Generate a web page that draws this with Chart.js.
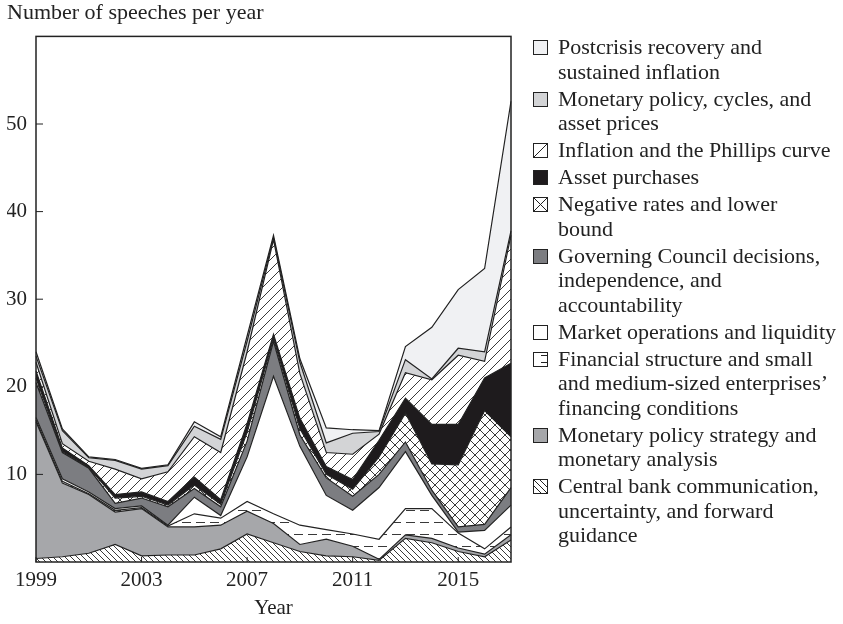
<!DOCTYPE html>
<html>
<head>
<meta charset="utf-8">
<script src="https://cdn.jsdelivr.net/npm/chart.js@4"></script>
<style>
  body { margin: 0; background: #fff; }
  #wrap { position: relative; width: 843px; height: 624px; }
  #legend { position: absolute; left: 533px; top: 35px; font: 22px/24.5px "Liberation Serif", serif; color: #222; }
  .item { display: flex; align-items: flex-start; margin-bottom: 2.5px; }
  .item canvas { width: 15px; height: 15px; margin-top: 5px; margin-right: 10px; flex: none; }
</style>
</head>
<body>
<div id="wrap">
  <canvas id="chart" width="843" height="624"></canvas>
  <div id="legend"></div>
</div>
<script>
const years = ["1999", "2000", "2001", "2002", "2003", "2004", "2005", "2006", "2007", "2008",
  "2009", "2010", "2011", "2012", "2013", "2014", "2015", "2016", "2017"];
const xTickYears = ["1999", "2003", "2007", "2011", "2015"];
const yTickValues = [10, 20, 30, 40, 50];

// series, bottom of the stack first
const commGuidance = [0.4, 0.6, 1.0, 2.0, 0.7, 0.8, 0.8, 1.5, 3.2, 2.2, 1.2, 0.7, 0.6, 0.2, 2.7, 2.2, 1.2, 0.6, 2.5];
const strategyAnalysis = [15.6, 8.4, 6.7, 3.7, 5.4, 3.2, 3.2, 2.7, 2.6, 2.2, 0.8, 1.9, 1.2, 0.1, 0.4, 0.5, 0.4, 0.3, 0.6];
const financialStructure = [0.2, 0.2, 0.1, 0.2, 0.1, 0.1, 1.5, 0.8, 1.1, 1.1, 2.2, 1.1, 1.4, 2.3, 3.0, 3.4, 1.7, 0.6, 0.9];
const marketOperations = [0.3, 0.3, 0.2, 0.2, 0.2, 0.1, 1.9, 0.3, 5.1, 15.7, 9.0, 3.9, 2.7, 5.9, 6.5, 1.5, 0.1, 2.1, 2.5];
const governingCouncil = [4.0, 3.0, 2.7, 0.6, 0.9, 2.1, 1.0, 1.0, 1.8, 4.0, 1.3, 2.0, 1.6, 1.5, 1.1, 0.6, 0.6, 0.7, 2.0];
const negativeRates = [0.5, 0.1, 0.1, 0.6, 0.2, 0.2, 0.4, 0.3, 1.0, 0.3, 0.7, 0.4, 0.8, 2.0, 3.3, 3.0, 7.1, 13.0, 5.8];
const assetPurchases = [0.8, 0.4, 0.2, 0.4, 0.5, 0.4, 0.9, 0.5, 1.0, 0.5, 1.2, 0.9, 1.1, 1.9, 1.7, 4.5, 4.6, 3.7, 8.4];
const inflationPhillips = [1.0, 0.5, 0.5, 2.9, 1.5, 3.4, 4.6, 5.4, 8.2, 10.8, 5.1, 1.6, 2.9, 0.7, 2.9, 5.1, 7.9, 1.9, 14.6];
const policyCycles = [0.7, 1.5, 0.4, 1.0, 1.1, 0.7, 1.2, 1.5, 1.2, 0.2, 1.3, 1.1, 2.4, 0.3, 1.5, 0.1, 0.8, 1.1, 0.5];
const postcrisisRecovery = [0.5, 0.2, 0.1, 0.1, 0.1, 0.1, 0.5, 0.3, 0.6, 0.3, 0.4, 1.7, 0.4, 0.1, 1.5, 5.9, 6.7, 9.5, 14.8];

const serif = "Liberation Serif";
const ink = "#222";

function makePattern(kind) {
  const c = document.createElement("canvas");
  const g = c.getContext("2d");
  let s = 10;
  if (kind === "back") s = 6;
  if (kind === "dash") { c.width = 14; c.height = 12; } else { c.width = s; c.height = s; }
  g.fillStyle = "#fff";
  g.fillRect(0, 0, c.width, c.height);
  g.strokeStyle = ink;
  g.lineWidth = 0.9;
  g.beginPath();
  if (kind === "dash") {
    g.moveTo(0, 6.5); g.lineTo(9, 6.5);
  } else {
    for (const k of [-s, 0, s]) {
      if (kind === "slash" || kind === "cross") { g.moveTo(k, s); g.lineTo(k + s, 0); }
      if (kind === "back" || kind === "cross") { g.moveTo(k, 0); g.lineTo(k + s, s); }
    }
  }
  g.stroke();
  return g.createPattern(c, "repeat");
}

const series = [
  { label: ["Central bank communication,", "uncertainty, and forward", "guidance"], data: commGuidance, fill: "back" },
  { label: ["Monetary policy strategy and", "monetary analysis"], data: strategyAnalysis, fill: "#a6a7aa" },
  { label: ["Financial structure and small", "and medium-sized enterprises\u2019", "financing conditions"], data: financialStructure, fill: "dash" },
  { label: ["Market operations and liquidity"], data: marketOperations, fill: "#ffffff" },
  { label: ["Governing Council decisions,", "independence, and", "accountability"], data: governingCouncil, fill: "#7c7d81" },
  { label: ["Negative rates and lower", "bound"], data: negativeRates, fill: "cross" },
  { label: ["Asset purchases"], data: assetPurchases, fill: "#1e1b1d" },
  { label: ["Inflation and the Phillips curve"], data: inflationPhillips, fill: "slash" },
  { label: ["Monetary policy, cycles, and", "asset prices"], data: policyCycles, fill: "#d3d4d6" },
  { label: ["Postcrisis recovery and", "sustained inflation"], data: postcrisisRecovery, fill: "#f0f1f3" },
];

function fillOf(f) {
  return f.startsWith("#") ? f : makePattern(f);
}

const frame = {
  id: "frame",
  afterDatasetsDraw(chart) {
    const { ctx, chartArea: a, scales } = chart;
    ctx.save();
    ctx.strokeStyle = ink;
    ctx.lineWidth = 1.5;
    ctx.strokeRect(a.left, a.top, a.right - a.left, a.bottom - a.top);
    ctx.lineWidth = 1;
    ctx.beginPath();
    for (const v of yTickValues) {
      const y = scales.y.getPixelForValue(v);
      ctx.moveTo(a.left, y); ctx.lineTo(a.left + 7, y);
    }
    for (const yr of xTickYears) {
      const x = scales.x.getPixelForValue(years.indexOf(yr));
      ctx.moveTo(x, a.bottom); ctx.lineTo(x, a.bottom - 5);
    }
    ctx.stroke();
    ctx.restore();
  }
};

new Chart(document.getElementById("chart"), {
  type: "line",
  data: {
    labels: years,
    datasets: series.map((s, i) => ({
      label: s.label.join(" "),
      data: s.data,
      backgroundColor: fillOf(s.fill),
      borderColor: ink,
      borderWidth: 1.2,
      pointRadius: 0,
      tension: 0,
      fill: i === 0 ? "origin" : "-1",
    })),
  },
  options: {
    responsive: false,
    animation: false,
    devicePixelRatio: 1,
    layout: { padding: { left: 7, right: 332, top: 0, bottom: 0 } },
    plugins: {
      legend: { display: false },
      tooltip: { enabled: false },
      title: {
        display: true,
        text: "Number of speeches per year",
        align: "start",
        color: ink,
        font: { family: serif, size: 22, weight: "normal" },
        padding: { top: 0, bottom: 10 },
      },
    },
    scales: {
      x: {
        type: "category",
        offset: false,
        grid: { display: false, drawTicks: false },
        border: { display: false },
        ticks: {
          autoSkip: false,
          maxRotation: 0,
          padding: 6,
          color: ink,
          font: { family: serif, size: 21 },
          callback(v) { const l = years[v]; return xTickYears.includes(l) ? l : ""; },
        },
        title: { display: true, text: "Year", color: ink, font: { family: serif, size: 21 }, padding: { top: 0, bottom: 3 } },
        afterFit(s) { s.height = 62; },
      },
      y: {
        stacked: true,
        min: 0,
        max: 60,
        grid: { display: false, drawTicks: false },
        border: { display: false },
        ticks: {
          stepSize: 10,
          padding: 9,
          color: ink,
          font: { family: serif, size: 21 },
          callback(v) { return yTickValues.includes(v) ? String(v) : ""; },
        },
        afterFit(s) { s.width = 29; },
      },
    },
  },
  plugins: [frame],
});

// legend, top of the stack first
function drawSwatch(cv, f) {
  const g = cv.getContext("2d");
  g.fillStyle = f.startsWith("#") ? f : "#fff";
  g.fillRect(0.5, 0.5, 14, 14);
  g.strokeStyle = ink;
  g.lineWidth = 1;
  g.beginPath();
  if (f === "slash" || f === "cross") { g.moveTo(1, 14); g.lineTo(14, 1); }
  if (f === "cross") { g.moveTo(1, 1); g.lineTo(14, 14); }
  if (f === "back") { g.moveTo(1, 1); g.lineTo(14, 14); g.moveTo(1, 7); g.lineTo(8, 14); g.moveTo(7, 1); g.lineTo(14, 8); }
  if (f === "dash") { g.moveTo(8, 10.5); g.lineTo(14, 10.5); g.moveTo(8, 3.5); g.lineTo(14, 3.5); }
  g.stroke();
  g.strokeRect(0.5, 0.5, 14, 14);
}

const legend = document.getElementById("legend");
for (const s of series.slice().reverse()) {
  const item = document.createElement("div");
  item.className = "item";
  const cv = document.createElement("canvas");
  cv.width = 15; cv.height = 15;
  drawSwatch(cv, s.fill);
  const txt = document.createElement("div");
  txt.innerHTML = s.label.join("<br>");
  item.appendChild(cv);
  item.appendChild(txt);
  legend.appendChild(item);
}
</script>
</body>
</html>
